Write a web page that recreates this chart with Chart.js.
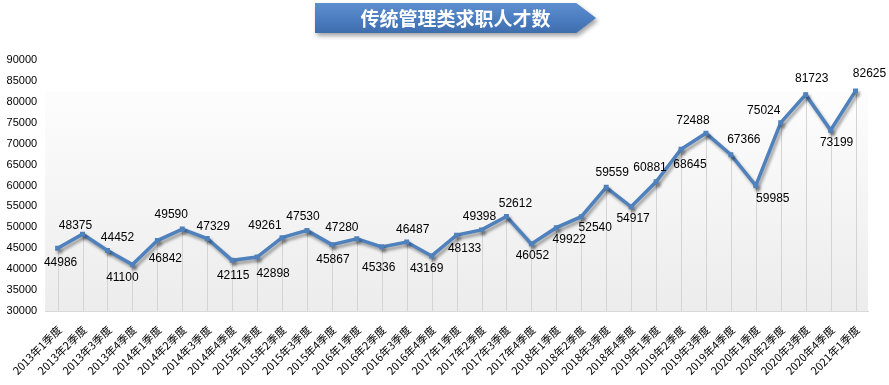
<!DOCTYPE html>
<html>
<head>
<meta charset="utf-8">
<script src="https://cdn.jsdelivr.net/npm/chart.js@4.4.1/dist/chart.umd.min.js"></script>
<style>
  body { margin: 0; background: #fff; }
  #wrap { position: relative; width: 889px; height: 385px; }
  #banner { position: absolute; left: 315px; top: 3px; width: 281px; height: 30px;
    filter: drop-shadow(2px 3px 2px rgba(0,0,0,0.35)); }
  #banner div { width: 100%; height: 100%;
    clip-path: polygon(0 0, 93% 0, 100% 50%, 93% 100%, 0 100%);
    background: linear-gradient(#5d8fd0, #4a7cbf 55%, #3f6eae);
    color: #fff; font: bold 19px "Noto Sans CJK SC", sans-serif;
    line-height: 30px; text-align: center; }
</style>
</head>
<body>
<div id="wrap">
  <canvas id="chart" width="889" height="385"></canvas>
  <div id="banner"><div>传统管理类求职人才数</div></div>
</div>
<script>
const quarters = [
  "2013年1季度", "2013年2季度", "2013年3季度", "2013年4季度",
  "2014年1季度", "2014年2季度", "2014年3季度", "2014年4季度",
  "2015年1季度", "2015年2季度", "2015年3季度", "2015年4季度",
  "2016年1季度", "2016年2季度", "2016年3季度", "2016年4季度",
  "2017年1季度", "2017年2季度", "2017年3季度", "2017年4季度",
  "2018年1季度", "2018年2季度", "2018年3季度", "2018年4季度",
  "2019年1季度", "2019年2季度", "2019年3季度", "2019年4季度",
  "2020年1季度", "2020年2季度", "2020年3季度", "2020年4季度",
  "2021年1季度"
];

const seekers = [
  44986, 48375, 44452, 41100, 46842, 49590, 47329, 42115,
  42898, 47530, 49261, 45867, 47280, 45336, 46487, 43169,
  48133, 49398, 52612, 46052, 49922, 52540, 59559, 54917,
  60881, 68645, 72488, 67366, 59985, 75024, 81723, 73199,
  82625
];

const yMin = 30000;
const yMax = 90000;
const yStep = 5000;

// where each value label sits relative to its point (dx, dy in px)
const labelOffsets = [
  [3, 14], [-7, -8], [10, -13], [-10, 13], [8, 18], [-11, -14], [6, -12], [1, 15],
  [16, 17], [21, -21], [-42, -5], [1, 15], [-15, -11], [-3, 21], [6, -12], [-5, 13],
  [8, 14], [-2, -13], [9, -13], [1, 12], [13, 12], [14, 11], [6, -15], [2, 12],
  [-6, -14], [9, 15], [-13, -13], [13, -15], [17, 13], [-17, -12], [6, -16], [6, 12],
  [14, -17]
];

const LINE_BLUE = "#4f81bd";
const NUM_FONT = "'Liberation Sans', Arial, sans-serif";

// plot area gradient
const plotBackground = {
  id: "plotBackground",
  beforeDraw(chart) {
    const { ctx, chartArea: a } = chart;
    const top = a.top + (a.bottom - a.top) * 0.125;
    const g = ctx.createLinearGradient(0, top, 0, a.bottom);
    g.addColorStop(0, "#fdfdfd");
    g.addColorStop(1, "#ececec");
    ctx.save();
    ctx.fillStyle = g;
    ctx.fillRect(a.left, top, a.right - a.left, a.bottom - top);
    ctx.restore();
  }
};

// drop lines from each point down to the axis
const dropLines = {
  id: "dropLines",
  beforeDatasetsDraw(chart) {
    const { ctx, chartArea: a } = chart;
    const pts = chart.getDatasetMeta(0).data;
    ctx.save();
    ctx.strokeStyle = "#d4d4d4";
    ctx.lineWidth = 1;
    pts.forEach(p => {
      const x = Math.round(p.x) + 0.5;
      ctx.beginPath();
      ctx.moveTo(x, p.y);
      ctx.lineTo(x, a.bottom);
      ctx.stroke();
    });
    ctx.restore();
  }
};

// soft shadow under the line
const lineShadow = {
  id: "lineShadow",
  beforeDatasetDraw(chart) {
    const ctx = chart.ctx;
    ctx.save();
    ctx.shadowColor = "rgba(0,0,0,0.35)";
    ctx.shadowBlur = 3;
    ctx.shadowOffsetX = 2;
    ctx.shadowOffsetY = 3;
  },
  afterDatasetDraw(chart) {
    chart.ctx.restore();
  }
};

// value labels
const valueLabels = {
  id: "valueLabels",
  afterDatasetsDraw(chart) {
    const { ctx } = chart;
    const pts = chart.getDatasetMeta(0).data;
    ctx.save();
    ctx.font = "12px " + NUM_FONT;
    ctx.fillStyle = "#000";
    ctx.textAlign = "center";
    ctx.textBaseline = "middle";
    pts.forEach((p, i) => {
      const off = labelOffsets[i] || [0, -12];
      ctx.fillText(String(seekers[i]), p.x + off[0], p.y + off[1]);
    });
    ctx.restore();
  }
};

new Chart(document.getElementById("chart"), {
  type: "line",
  data: {
    labels: quarters,
    datasets: [{
      data: seekers,
      borderColor: LINE_BLUE,
      backgroundColor: LINE_BLUE,
      borderWidth: 3.5,
      pointStyle: "rect",
      pointRadius: 3.5,
      pointBorderWidth: 0,
      tension: 0,
      fill: false
    }]
  },
  options: {
    responsive: false,
    animation: false,
    layout: { padding: { top: 60, right: 21, left: 0, bottom: 0 } },
    plugins: {
      legend: { display: false },
      tooltip: { enabled: false },
      title: { display: false }
    },
    scales: {
      x: {
        offset: true,
        grid: { display: false, drawTicks: false },
        border: { display: true, color: "#d9d9d9", width: 1 },
        ticks: {
          autoSkip: false,
          maxRotation: 45,
          minRotation: 45,
          padding: 12,
          labelOffset: 2,
          color: "#000",
          font: { family: "'Noto Sans CJK SC'", size: 11 }
        },
        afterFit(scale) { scale.height = 74; }
      },
      y: {
        min: yMin,
        max: yMax,
        grid: { display: false, drawTicks: false },
        border: { display: false },
        ticks: {
          stepSize: yStep,
          padding: 8,
          color: "#000",
          font: { family: NUM_FONT, size: 11 },
          callback: v => String(v)
        },
        afterFit(scale) { scale.width = 45; }
      }
    }
  },
  plugins: [plotBackground, dropLines, lineShadow, valueLabels]
});
</script>
</body>
</html>
